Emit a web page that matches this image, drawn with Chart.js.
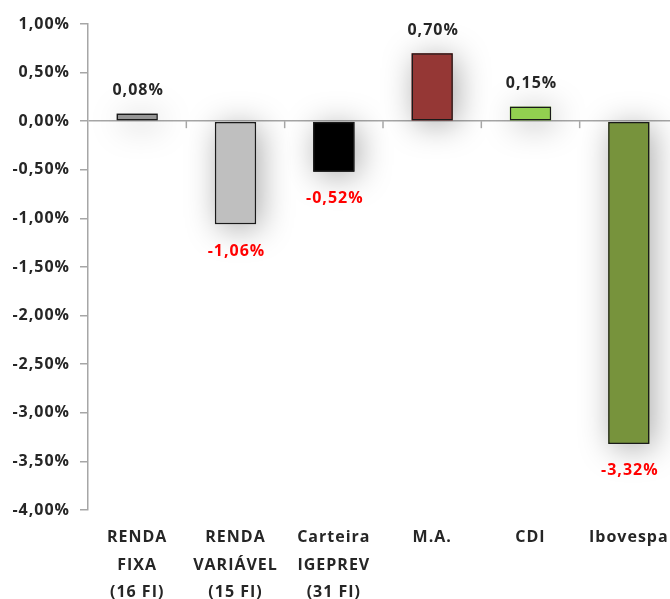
<!DOCTYPE html>
<html>
<head>
<meta charset="utf-8">
<script src="https://cdn.jsdelivr.net/npm/chart.js@4.4.1/dist/chart.umd.min.js"></script>
<style>
  html, body { margin: 0; padding: 0; overflow: hidden; background: #fff; }
  #chart { display: block; }
</style>
</head>
<body>
<canvas id="chart" width="678" height="599"></canvas>
<script>
// data
const categories = [
  ['RENDA', 'FIXA', '(16 FI)'],
  ['RENDA', 'VARIÁVEL', '(15 FI)'],
  ['Carteira', 'IGEPREV', '(31 FI)'],
  'M.A.',
  'CDI',
  'Ibovespa'
];
const returns = [0.08, -1.06, -0.52, 0.70, 0.15, -3.32];
const barColors = ['#969696', '#bfbfbf', '#000000', '#953735', '#92d050', '#77933c'];
const yMin = -4;
const yMax = 1;
const yStep = 0.5;

const FONT = "'Open Sans', 'Liberation Sans', sans-serif";
const SPACING = '1px';
const fmt = v => v.toFixed(2).replace('.', ',') + '%';

// wider lettering, the original font runs wide
const spacing = {
  id: 'spacing',
  beforeLayout(chart) { chart.ctx.letterSpacing = SPACING; },
  beforeDraw(chart) { chart.ctx.letterSpacing = SPACING; }
};

// soft shadow behind the bars, drawn before the bars themselves
const barShadow = {
  id: 'barShadow',
  beforeDatasetsDraw(chart) {
    const ctx = chart.ctx;
    const meta = chart.getDatasetMeta(0);
    ctx.save();
    ctx.shadowColor = 'rgba(0,0,0,0.34)';
    ctx.shadowBlur = 32;
    ctx.shadowOffsetX = 4;
    ctx.shadowOffsetY = 4;
    meta.data.forEach((bar, i) => {
      const p = bar.getProps(['x', 'y', 'base', 'width']);
      ctx.fillStyle = barColors[i];
      ctx.fillRect(p.x - p.width / 2, Math.min(p.y, p.base), p.width, Math.abs(p.base - p.y));
    });
    ctx.restore();
  }
};

// little tick marks on the zero line between categories + value labels
const extras = {
  id: 'extras',
  afterDatasetsDraw(chart) {
    const ctx = chart.ctx;
    const x = chart.scales.x;
    const y = chart.scales.y;
    const y0 = y.getPixelForValue(0);
    ctx.save();
    ctx.strokeStyle = '#a6a6a6';
    ctx.lineWidth = 1.5;
    for (let i = 0; i < categories.length; i++) {
      const bx = (x.getPixelForValue(i) + x.getPixelForValue(i + 1)) / 2;
      ctx.beginPath();
      ctx.moveTo(bx, y0);
      ctx.lineTo(bx, y0 + 7);
      ctx.stroke();
    }

    ctx.font = 'bold 16px ' + FONT;
    ctx.letterSpacing = SPACING;
    ctx.textAlign = 'center';
    ctx.textBaseline = 'middle';
    const meta = chart.getDatasetMeta(0);
    meta.data.forEach((bar, i) => {
      const v = returns[i];
      if (v >= 0) {
        ctx.fillStyle = '#262626';
        ctx.fillText(fmt(v), bar.x + 1, bar.y - 23);
      } else {
        ctx.fillStyle = '#ff0000';
        ctx.fillText(fmt(v), bar.x + 1, bar.y + 27);
      }
    });
    ctx.restore();
  }
};

new Chart(document.getElementById('chart'), {
  type: 'bar',
  data: {
    labels: categories,
    datasets: [{
      data: returns,
      backgroundColor: barColors,
      borderColor: '#1a1a1a',
      borderWidth: 1.5,
      borderSkipped: false,
      categoryPercentage: 1,
      barPercentage: 0.42
    }]
  },
  options: {
    responsive: false,
    animation: false,
    layout: { padding: { top: 24, right: 0, bottom: 0, left: 0 } },
    plugins: {
      legend: { display: false },
      tooltip: { enabled: false }
    },
    scales: {
      x: {
        grid: { display: false, drawTicks: false },
        border: { display: false },
        ticks: {
          padding: 14,
          maxRotation: 0,
          autoSkip: false,
          color: '#262626',
          font: { family: FONT, size: 16, weight: 'bold', lineHeight: 1.72 }
        },
        afterFit(scale) {
          scale.height = 89;
          scale.paddingLeft = 0;
          scale.paddingRight = 0;
        }
      },
      y: {
        min: yMin,
        max: yMax,
        grid: {
          color: ctx => ctx.tick && ctx.tick.value === 0 ? '#a6a6a6' : 'rgba(0,0,0,0)',
          lineWidth: 1.5,
          tickColor: '#a6a6a6',
          tickLength: 8
        },
        border: { color: '#a6a6a6', width: 1.5 },
        ticks: {
          stepSize: yStep,
          padding: 10,
          color: '#262626',
          font: { family: FONT, size: 16, weight: 'bold' },
          callback: v => fmt(v)
        },
        afterFit(scale) { scale.width = 88; }
      }
    }
  },
  plugins: [spacing, barShadow, extras]
});
</script>
</body>
</html>
